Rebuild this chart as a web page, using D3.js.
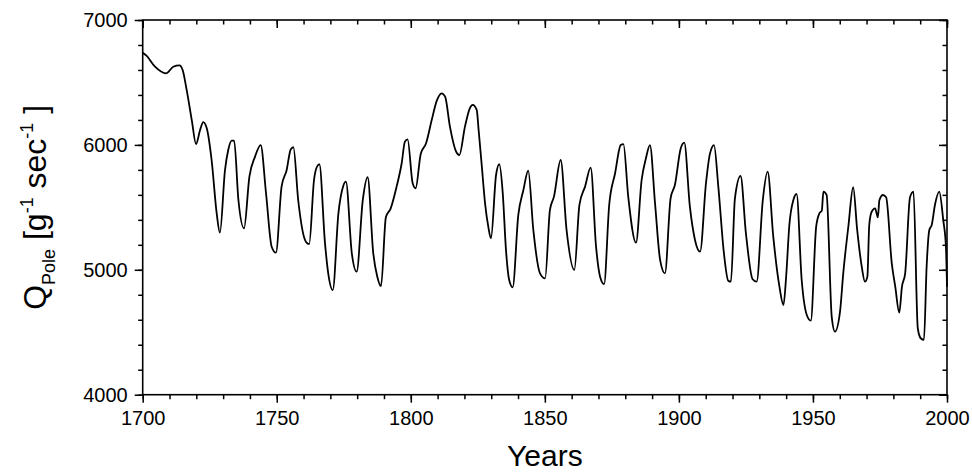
<!DOCTYPE html>
<html>
<head>
<meta charset="utf-8">
<script src="https://cdn.jsdelivr.net/npm/d3@7"></script>
<style>
  body { margin: 0; background: #fff; }
  svg { display: block; }
  .tick text { font-family: 'Liberation Sans', Arial, sans-serif; font-size: 20px; fill: #000; }
  .label { font-family: 'Liberation Sans', Arial, sans-serif; fill: #000; }
</style>
</head>
<body>
<div id="chart"></div>
<script>
  'use strict';

  // Values.
  var years = [
    1700, 1701.5, 1704.6, 1708.7, 1711.4, 1713.7, 1714.9, 1716.4, 1718.3, 1719.9,
    1721.4, 1722.6, 1723.9, 1725.7, 1727.6, 1728.8, 1730.7, 1731.9, 1733.2, 1734.1,
    1735.7, 1737.8, 1739.8, 1741.9, 1744, 1746, 1748.1, 1749.7, 1751.8, 1753.7,
    1755.2, 1756.2, 1758, 1760.2, 1761.5, 1762.1, 1763.9, 1764.9, 1765.9, 1768,
    1769.2, 1770.9, 1773, 1774.8, 1775.8, 1778, 1779.8, 1782.1, 1783.9, 1786,
    1787.5, 1788.9, 1790.7, 1792.5, 1794.7, 1796.6, 1797.8, 1798.8, 1800.7, 1801.8,
    1803.7, 1805.7, 1807.8, 1809.7, 1811.5, 1812.8, 1814.6, 1816.9, 1818.1, 1820.2,
    1822, 1823.1, 1824.6, 1825.3, 1826.5, 1827.7, 1828.9, 1829.9, 1831.8, 1833,
    1834.3, 1835.5, 1836.7, 1838, 1840.1, 1842, 1843.8, 1845.7, 1848.2, 1850.1,
    1851.9, 1853.4, 1855.9, 1858.1, 1861, 1862.9, 1865, 1867.1, 1869.1, 1870.6,
    1872.1, 1874, 1876.2, 1878.3, 1879.3, 1881.1, 1884, 1886.1, 1887.7, 1889.2,
    1891.1, 1893, 1894.8, 1896.9, 1898.5, 1900.7, 1902, 1904.1, 1906, 1907.9,
    1910.1, 1911.6, 1913.1, 1914.7, 1916.8, 1918.4, 1919.4, 1920.9, 1923, 1925,
    1927.5, 1929, 1931.3, 1933.1, 1935.2, 1937.5, 1939, 1940, 1941.2, 1942.7,
    1943.9, 1945.8, 1947.7, 1949.2, 1951.2, 1952.4, 1953.3, 1953.9, 1955.1, 1957,
    1958.2, 1960.1, 1961.3, 1963.2, 1965, 1966.5, 1968.2, 1969.4, 1970.3, 1971,
    1971.9, 1973.2, 1974.2, 1974.8, 1976.1, 1977.3, 1979.4, 1980.7, 1982.2, 1983.2,
    1984.4, 1986.2, 1987.5, 1989.1, 1990.2, 1991.4, 1992.4, 1993.4, 1994.3, 1995.5,
    1997.1, 1998.6, 1999.6, 2000
  ];
  var qPole = [
    6738, 6712, 6626, 6573, 6626, 6637, 6600, 6440, 6199, 6007,
    6119, 6183, 6133, 5879, 5452, 5297, 5799, 5959, 6034, 6034,
    5559, 5332, 5746, 5906, 5999, 5613, 5185, 5137, 5666, 5799,
    5964, 5981, 5559, 5260, 5210, 5207, 5719, 5821, 5845, 5212,
    4972, 4838, 5452, 5671, 5706, 5132, 4985, 5559, 5741, 5132,
    4945, 4870, 5420, 5492, 5666, 5853, 6026, 6045, 5693, 5653,
    5927, 6013, 6199, 6354, 6413, 6386, 6146, 5946, 5919, 6146,
    6293, 6320, 6279, 6119, 5826, 5532, 5345, 5252, 5759, 5845,
    5613, 5159, 4918, 4860, 5439, 5639, 5794, 5319, 4972, 4932,
    5479, 5586, 5879, 5319, 4999, 5519, 5666, 5818, 5185, 4945,
    4886, 5519, 5773, 5999, 6007, 5586, 5217, 5719, 5893, 5999,
    5532, 5078, 4972, 5572, 5679, 5973, 6018, 5505, 5239, 5145,
    5693, 5932, 5999, 5666, 5132, 4913, 4905, 5572, 5751, 5292,
    4924, 4905, 5559, 5786, 5265, 4865, 4718, 4945, 5359, 5559,
    5607, 4918, 4638, 4593, 5345, 5452, 5473, 5626, 5599, 4625,
    4505, 4665, 4972, 5345, 5661, 5319, 5025, 4905, 4945, 5359,
    5465, 5492, 5420, 5559, 5599, 5580, 5052, 4865, 4657, 4865,
    4972, 5580, 5626, 4532, 4452, 4439, 5025, 5319, 5359, 5519,
    5626, 5399, 5185, 4865
  ];
  var xTickLabels = [1700, 1750, 1800, 1850, 1900, 1950, 2000];
  var yTickLabels = [4000, 5000, 6000, 7000];

  var width = 972;
  var height = 474;
  var plotLeft = 142.7, plotRight = 947, plotTop = 20, plotBottom = 394.7;

  var xScale = d3.scaleLinear().domain([1700, 2000]).range([plotLeft, plotRight]);
  var yScale = d3.scaleLinear().domain([4000, 7000]).range([plotBottom, plotTop]);

  var xMinor = d3.range(1700, 2001, 10);
  var yMinor = d3.range(4000, 7001, 200);

  var svg = d3.select('#chart')
    .append('svg')
    .attr('width', width)
    .attr('height', height);

  // Minor ticks, on all four sides, all pointing the same way as the labelled ones.
  svg.append('g')
    .attr('transform', 'translate(0,' + plotBottom + ')')
    .call(d3.axisBottom(xScale).tickValues(xMinor).tickSize(4.5).tickSizeOuter(0).tickFormat(''));
  svg.append('g')
    .attr('transform', 'translate(0,' + plotTop + ')')
    .call(d3.axisBottom(xScale).tickValues(xMinor).tickSize(4.5).tickSizeOuter(0).tickFormat(''));
  svg.append('g')
    .attr('transform', 'translate(' + plotLeft + ',0)')
    .call(d3.axisLeft(yScale).tickValues(yMinor).tickSize(4.5).tickSizeOuter(0).tickFormat(''));
  svg.append('g')
    .attr('transform', 'translate(' + plotRight + ',0)')
    .call(d3.axisLeft(yScale).tickValues(yMinor).tickSize(4.5).tickSizeOuter(0).tickFormat(''));

  // Major ticks with labels.
  svg.append('g')
    .attr('class', 'x axis')
    .attr('transform', 'translate(0,' + plotBottom + ')')
    .call(d3.axisBottom(xScale).tickValues(xTickLabels).tickSize(8).tickSizeOuter(0).tickPadding(8).tickFormat(d3.format('d')));
  svg.append('g')
    .attr('transform', 'translate(0,' + plotTop + ')')
    .call(d3.axisBottom(xScale).tickValues(xTickLabels).tickSize(8).tickSizeOuter(0).tickFormat(''));
  svg.append('g')
    .attr('class', 'y axis')
    .attr('transform', 'translate(' + plotLeft + ',0)')
    .call(d3.axisLeft(yScale).tickValues(yTickLabels).tickSize(8).tickSizeOuter(0).tickPadding(7).tickFormat(d3.format('d')));
  svg.append('g')
    .attr('transform', 'translate(' + plotRight + ',0)')
    .call(d3.axisLeft(yScale).tickValues(yTickLabels).tickSize(8).tickSizeOuter(0).tickFormat(''));

  svg.selectAll('.tick line').attr('stroke', '#000').attr('stroke-width', 1.5);
  svg.selectAll('.domain').remove();

  // Frame round the plot.
  svg.append('rect')
    .attr('x', plotLeft)
    .attr('y', plotTop)
    .attr('width', plotRight - plotLeft)
    .attr('height', plotBottom - plotTop)
    .attr('fill', 'none')
    .attr('stroke', '#000')
    .attr('stroke-width', 1.6);

  var line = d3.line()
    .x(function(d, i) { return xScale(years[i]); })
    .y(function(d) { return yScale(d); })
    .curve(d3.curveMonotoneX);

  svg.append('path')
    .datum(qPole)
    .attr('fill', 'none')
    .attr('stroke', '#000')
    .attr('stroke-width', 1.8)
    .attr('stroke-linejoin', 'round')
    .attr('d', line);

  // Axis titles.
  svg.append('text')
    .attr('class', 'label')
    .attr('text-anchor', 'middle')
    .attr('x', (plotLeft + plotRight) / 2)
    .attr('y', 466)
    .style('font-size', '30px')
    .text('Years');

  var yTitle = svg.append('text')
    .attr('class', 'label')
    .attr('text-anchor', 'middle')
    .attr('transform', 'translate(46,' + ((plotTop + plotBottom) / 2) + ') rotate(-90)')
    .style('font-size', '32px');
  yTitle.append('tspan').text('Q');
  yTitle.append('tspan').attr('dy', 9).style('font-size', '18px').text('Pole');
  yTitle.append('tspan').attr('dy', -9).text(' [g');
  yTitle.append('tspan').attr('dy', -13).style('font-size', '18px').text('-1');
  yTitle.append('tspan').attr('dy', 13).text(' sec');
  yTitle.append('tspan').attr('dy', -13).style('font-size', '18px').text('-1');
  yTitle.append('tspan').attr('dy', 13).text(' ]');
</script>
</body>
</html>
